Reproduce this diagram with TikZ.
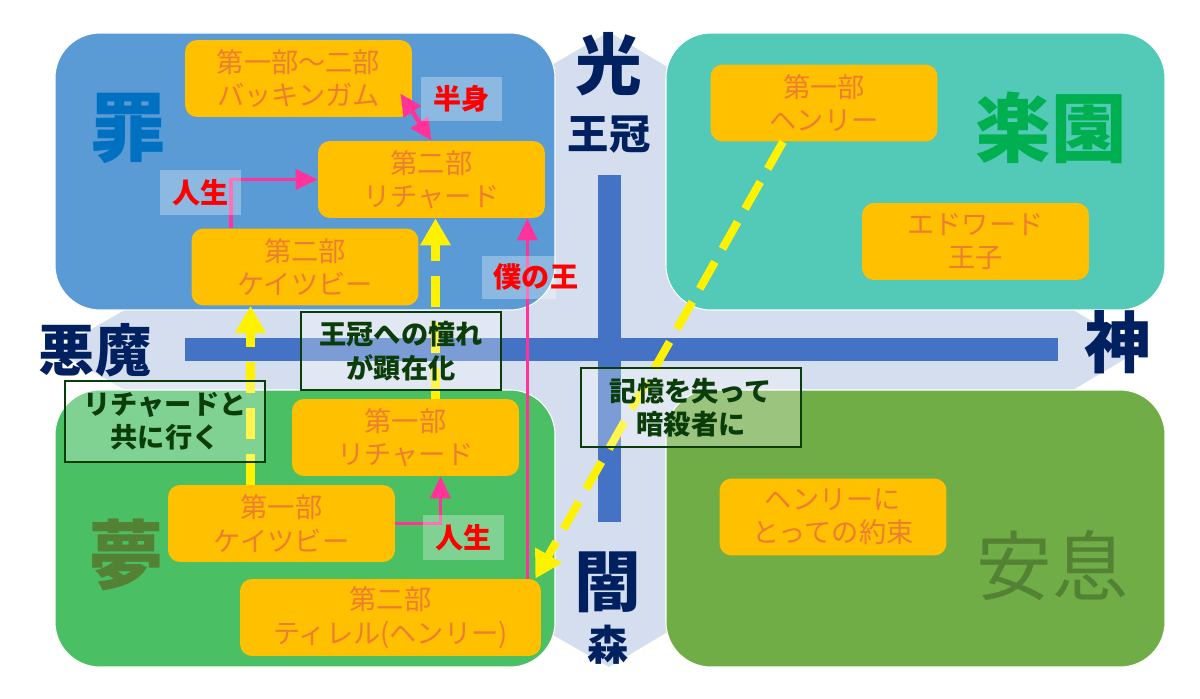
\documentclass[tikz,border=0pt]{standalone}
\usepackage{fontspec}
\setmainfont{Noto Sans CJK JP}
\usetikzlibrary{arrows.meta, calc}
\definecolor{bgdiam}{HTML}{D5DEEF}
\definecolor{qsin}{HTML}{5B9BD5}
\definecolor{qeden}{HTML}{53C9B7}
\definecolor{qdream}{HTML}{4ABF63}
\definecolor{qrest}{HTML}{70AD47}
\definecolor{axisblue}{HTML}{4472C4}
\definecolor{navy}{HTML}{002060}
\definecolor{boxorange}{HTML}{FFC000}
\definecolor{txtorange}{HTML}{ED7D31}
\definecolor{hotpink}{HTML}{FF3399}
\definecolor{darkgreen}{HTML}{0B3D0B}
\definecolor{olive}{HTML}{548235}
\definecolor{sinblue}{HTML}{0070C0}
\definecolor{edengreen}{HTML}{00B050}

\begin{document}
\begin{tikzpicture}[x=0.02cm, y=-0.02cm,
    quad/.style={draw=white, line width=0.6pt, rounded corners=0.9cm},
    ubox/.style={fill=boxorange, rounded corners=0.24cm, text=txtorange,
      font=\fontsize{15.5}{19}\selectfont, align=center,
      minimum width=4.54cm, minimum height=1.54cm, inner sep=0pt},
    tag/.style={fill=white, fill opacity=0.3, text opacity=1, text=red,
      font=\fontsize{16}{19}\selectfont\bfseries, inner sep=0pt},
    note/.style={draw=darkgreen, line width=0.7pt, fill=white, fill opacity=0.3,
      text opacity=1, text=darkgreen, font=\fontsize{15.5}{19}\selectfont\bfseries,
      align=center, inner sep=0pt},
    axlab/.style={text=navy, font=\bfseries},
    pinkline/.style={draw=hotpink, line width=2pt,
      arrows={-Triangle[width=0.4cm, length=0.44cm]}},
    dashy/.style={draw=yellow, line width=4.6pt, dash pattern=on 0.62cm off 0.3cm,
      arrows={-Triangle[width=0.58cm, length=0.54cm]}}]
  \useasboundingbox (0,0) rectangle (1200,699);

  % Background diamond
  \fill[bgdiam] (609,32) -- (1140,350) -- (609,667) -- (55,350) -- cycle;

  % Quadrants
  \filldraw[quad, fill=qsin]   (55,33)  rectangle (555,310);
  \filldraw[quad, fill=qeden]  (666,33) rectangle (1165,310);
  \filldraw[quad, fill=qdream] (55,390) rectangle (555,667);
  \filldraw[quad, fill=qrest]  (666,390) rectangle (1165,667);

  % Axes
  \fill[axisblue] (185,338) rectangle (1058,361);
  \fill[axisblue] (598,175) rectangle (621,522);

  % Axis labels
  \node[axlab, font=\fontsize{38}{40}\selectfont\bfseries] (light) at (609,64) {光};
  \node[axlab, font=\fontsize{23.5}{26}\selectfont\bfseries] (crown) at (609,135) {王冠};
  \node[axlab, font=\fontsize{38}{40}\selectfont\bfseries] (dark) at (608,582) {闇};
  \node[axlab, font=\fontsize{23.5}{26}\selectfont\bfseries] (forest) at (608,645) {森};
  \node[axlab, font=\fontsize{32}{34}\selectfont\bfseries] (devil) at (95,350) {悪魔};
  \node[axlab, font=\fontsize{38}{40}\selectfont\bfseries] (god) at (1118,342) {神};

  % Quadrant labels
  \node[text=sinblue, font=\fontsize{43}{45}\selectfont\bfseries] (sin) at (128,128) {罪};
  \node[text=edengreen, font=\fontsize{43}{45}\selectfont\bfseries] (eden) at (1051,128) {楽園};
  \node[text=olive, font=\fontsize{43}{45}\selectfont\bfseries] (dream) at (126,555) {夢};
  \node[text=olive, font=\fontsize{43}{45}\selectfont] (rest) at (1052,565) {安息};

  % Characters
  \node[ubox] (buck) at (298.5,78.5) {第一部〜二部\\バッキンガム};
  \node[ubox] (rich2) at (431.5,179.5) {第二部\\リチャード};
  \node[ubox] (cates2) at (305,267) {第二部\\ケイツビー};
  \node[ubox] (henry) at (824,103) {第一部\\ヘンリー};
  \node[ubox] (edward) at (975.5,241.5) {エドワード\\王子};
  \node[ubox] (rich1) at (405.5,437.5) {第一部\\リチャード};
  \node[ubox] (cates1) at (281.5,523.5) {第一部\\ケイツビー};
  \node[ubox, minimum width=6.02cm] (tyrrel) at (390.5,617.5) {第二部\\ティレル(ヘンリー)};
  \node[ubox] (promise) at (833,517) {ヘンリーに\\とっての約束};

  % Yellow dashed arrows
  \draw[dashy] ($(cates1.north)+(-31,0)$) coordinate (y1) -- (y1 |- cates2.south);
  \draw[dashy] ($(rich1.north)+(30,0)$) coordinate (y2) -- (y2 |- rich2.south);
  \draw[dashy] ($(henry.south)+(-41,0)$) -- ($(tyrrel.north east)+(-6,0)$);

  % Pink arrows
  \draw[pinkline, line width=2.6pt,
    arrows={Triangle[width=0.4cm, length=0.44cm]-Triangle[width=0.4cm, length=0.44cm]}]
    ($(buck.east)+(-12,15)$) -- (rich2.north);
  \draw[pinkline] ($(cates2.north west)+(40,0)$) |- (rich2.west);
  \draw[pinkline] ($(tyrrel.north east)+(-14,0)$) coordinate (p1) -- (p1 |- rich2.south);
  \draw[pinkline] (cates1.east) -| ($(rich1.south)+(35,0)$);

  % Tags
  \node[tag, minimum width=1.62cm, minimum height=0.88cm] (half) at (461.5,99) {半身};
  \node[tag, minimum width=1.62cm, minimum height=0.9cm] (life2) at (200.5,192.5) {人生};
  \fill[white, opacity=0.3] (482,256) rectangle (556,299);
  \node[text=red, font=\fontsize{16}{19}\selectfont\bfseries] (myking) at (536,277) {僕の王};
  \node[tag, minimum width=1.62cm, minimum height=0.9cm] (life1) at (463.5,537.5) {人生};

  % Notes
  \node[note, minimum width=4cm, minimum height=1.56cm] (yearn) at (401,351) {王冠への憧れ\\が顕在化};
  \node[note, minimum width=4cm, minimum height=1.62cm] (withr) at (165,421.5) {リチャードと\\共に行く};
  \node[note, minimum width=4.4cm, minimum height=1.58cm] (amnes) at (691,407.5) {記憶を失って\\暗殺者に};
\end{tikzpicture}
\end{document}
